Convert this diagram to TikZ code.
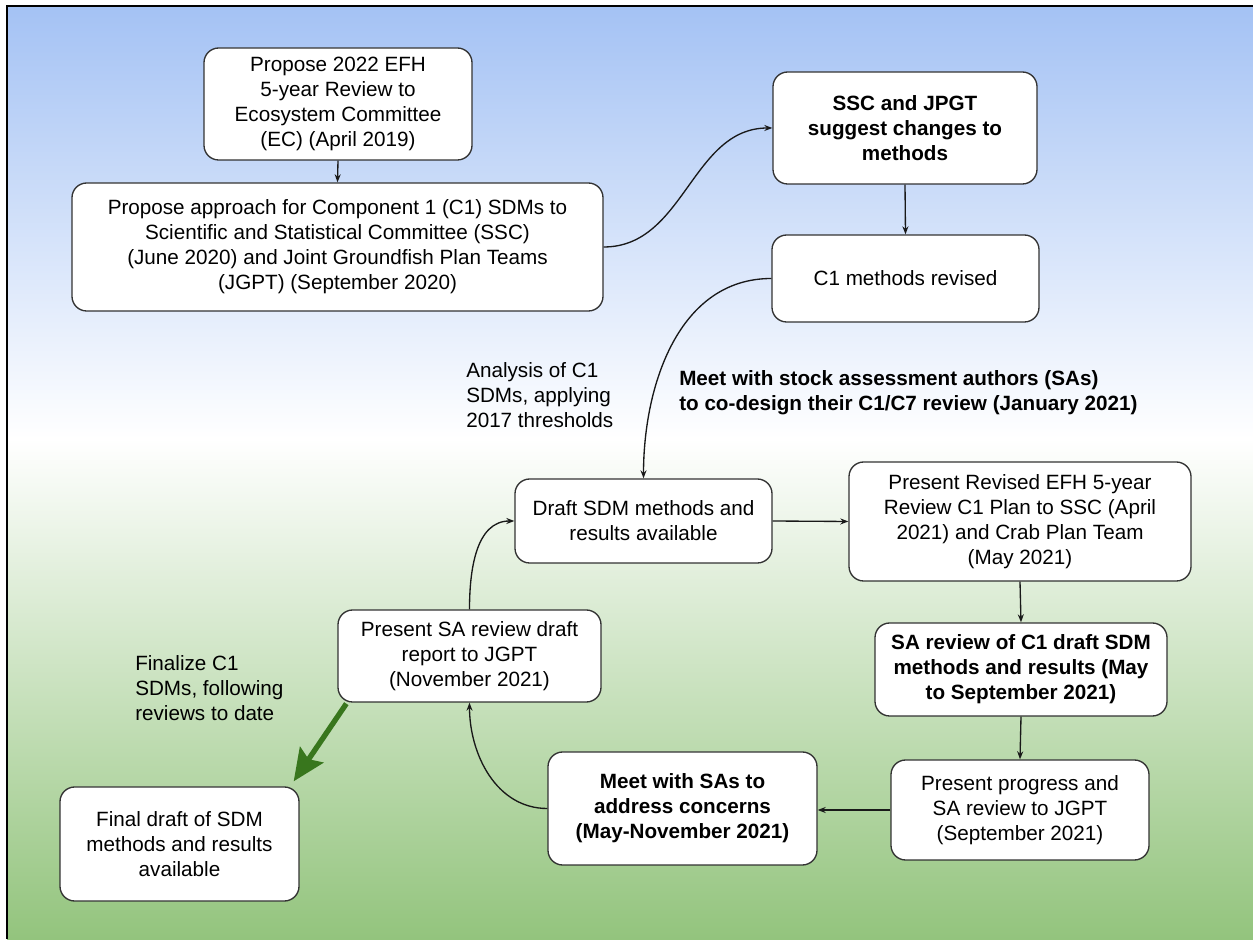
\documentclass[tikz,border=0pt]{standalone}
\usepackage{fontspec}
\setmainfont{Liberation Sans}
\usetikzlibrary{arrows.meta}
\definecolor{bgblue}{HTML}{A4C2F4}
\definecolor{bggreen}{HTML}{93C47D}
\definecolor{arrgreen}{HTML}{38761D}
\definecolor{edge}{HTML}{333333}
\tikzset{
  box/.style={draw=edge, line width=1pt, fill=white, rounded corners=11pt,
    align=center, inner sep=0pt, font=\fontsize{15.5}{18.75}\selectfont},
  sz/.style 2 args={minimum width=#1*0.75pt, minimum height=#2*0.75pt},
  lbl/.style={align=left, anchor=west, inner sep=0pt, font=\fontsize{15.5}{18.75}\selectfont},
  conn/.style={draw=black!90, line width=1pt, -{Stealth[length=6pt,width=4.5pt]}},
  bigarrow/.style={draw=arrgreen, line width=4pt, -{Stealth[length=24pt,width=21pt,inset=4pt]}}
}
\begin{document}
\begin{tikzpicture}[x=0.75pt,y=0.75pt]
\useasboundingbox (0,0) rectangle (1253,939);
\fill[white] (0,0) rectangle (1253,939);
\shade[top color=bgblue, bottom color=white] (7,500) rectangle (1253,933);
\shade[top color=white, bottom color=bggreen] (7,0) rectangle (1253,500.5);
\draw[black, line width=1.2pt] (7,0) -- (7,933) -- (1253,933);

\node[box, sz={268}{112}] (n1) at (338,835) {Propose 2022 EFH\\5-year Review to\\Ecosystem Committee\\(EC) (April 2019)};
\node[box, sz={531}{128}] (n2) at (337.5,692) {Propose approach for Component 1 (C1) SDMs to\\Scientific and Statistical Committee (SSC)\\(June 2020) and Joint Groundfish Plan Teams\\(JGPT) (September 2020)};
\node[box, sz={264}{112}, font=\fontsize{15.5}{18.75}\selectfont\bfseries] (n3) at (905,811) {SSC and JPGT\\suggest changes to\\methods};
\node[box, sz={267}{87}] (n4) at (905.5,660.5) {C1 methods revised};
\node[box, sz={257}{84}] (n7) at (643.5,418) {Draft SDM methods and\\results available};
\node[box, sz={342}{119}] (n8) at (1020,417.5) {Present Revised EFH 5-year\\Review C1 Plan to SSC (April\\2021) and Crab Plan Team\\(May 2021)};
\node[box, sz={292}{93}, font=\fontsize{15.5}{18.75}\selectfont\bfseries] (n9) at (1021,269.5) {SA review of C1 draft SDM\\methods and results (May\\to September 2021)};
\node[box, sz={258}{100}] (n10) at (1020,129) {Present progress and\\SA review to JGPT\\(September 2021)};
\node[box, sz={269}{113}, font=\fontsize{15.5}{18.75}\selectfont\bfseries] (n11) at (682.5,130.5) {Meet with SAs to\\address concerns\\(May-November 2021)};
\node[box, sz={263}{92}] (n12) at (469.5,283) {Present SA review draft\\report to JGPT\\(November 2021)};
\node[box, sz={239}{114}] (n13) at (179.5,95) {Final draft of SDM\\methods and results\\available};

\node[lbl] (l1) at (466,544) {Analysis of C1\\SDMs, applying\\2017 thresholds};
\node[lbl, font=\fontsize{15.5}{18.75}\selectfont\bfseries] (l2) at (679,546.5) {Meet with stock assessment authors (SAs)\\to co-design their C1/C7 review (January 2021)};
\node[lbl] (l3) at (135,251) {Finalize C1\\SDMs, following\\reviews to date};

\draw[conn] (n1.south) -- (n2.north);
\draw[conn] (n2.east) to[out=0,in=180] (n3.west);
\draw[conn] (n3.south) -- (n4.north);
\draw[conn] (n4.west) to[out=180,in=90] (n7.north);
\draw[conn] (n7.east) -- (n8.west);
\draw[conn] (n8.south) -- (n9.north);
\draw[conn] (n9.south) -- (n10.north);
\draw[conn] (n10.west) -- (n10.west -| n11.east);
\draw[conn] (n11.west) to[out=180,in=-90] (n12.south);
\draw[conn] (n12.north) to[out=90,in=180] (n7.west);
\draw[bigarrow] ([xshift=6.75pt,yshift=-0.75pt]n12.south west) -- ([xshift=-4.5pt,yshift=3.75pt]n13.north east);
\end{tikzpicture}
\end{document}
